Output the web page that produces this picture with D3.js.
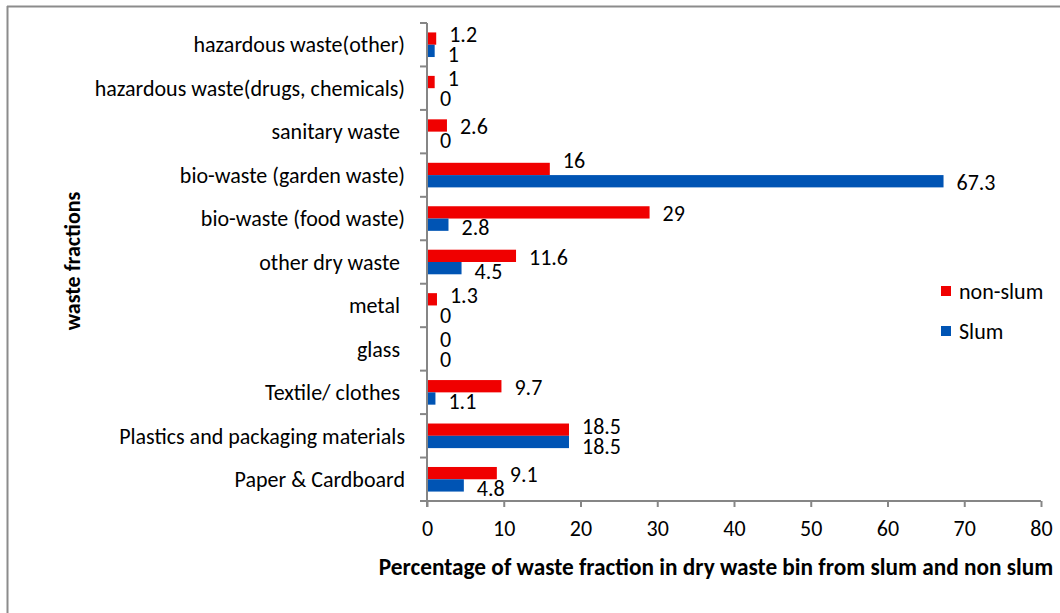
<!DOCTYPE html>
<html>
<head>
<meta charset="utf-8">
<script src="https://cdn.jsdelivr.net/npm/d3@7"></script>
<style>
  html, body { margin: 0; padding: 0; background: #fff; }
  svg { display: block; }
  text { font-family: Carlito, Lato, "Open Sans", sans-serif; fill: #000; }
</style>
</head>
<body>
<svg id="chart" width="1060" height="613"></svg>
<script>
// ---- data ----
const categories = [
  "hazardous waste(other)",
  "hazardous waste(drugs, chemicals)",
  "sanitary waste ",
  "bio-waste (garden waste)",
  "bio-waste (food waste)",
  "other dry waste ",
  "metal ",
  "glass ",
  "Textile/ clothes ",
  "Plastics and packaging materials",
  "Paper & Cardboard"
];
const nonSlum = [1.2, 1, 2.6, 16, 29, 11.6, 1.3, 0, 9.7, 18.5, 9.1];
const slum    = [1, 0, 0, 67.3, 2.8, 4.5, 0, 0, 1.1, 18.5, 4.8];
const seriesNames = ["non-slum", "Slum"];
const xTicks = [0, 10, 20, 30, 40, 50, 60, 70, 80];
const xTitle = "Percentage of waste fraction in dry waste bin from slum and non slum";
const yTitle = "waste fractions";

// ---- layout ----
const colors = ["#F00000", "#0054B4"];
const FS = "22px";
const svg = d3.select("#chart");
const pLeft = 427, pRight = 1041, pTop = 23, pBottom = 501;

// outer frame (top and left edges visible)
svg.append("line").attr("x1", 7).attr("x2", 1060).attr("y1", 6.5).attr("y2", 6.5)
  .attr("stroke", "#8c8c8c").attr("stroke-width", 2);
svg.append("line").attr("x1", 7.5).attr("x2", 7.5).attr("y1", 6).attr("y2", 613)
  .attr("stroke", "#8c8c8c").attr("stroke-width", 2);

const x = d3.scaleLinear().domain([0, 80]).range([pLeft, pRight]);
const y = d3.scaleBand().domain(categories).range([pTop, pBottom])
  .paddingInner(0.434).paddingOuter(0.217);
const inner = d3.scaleBand().domain([0, 1]).range([0, y.bandwidth()]);

const data = categories.map((c, i) => ({ c, vals: [nonSlum[i], slum[i]] }));

// bars
const g = svg.append("g");
data.forEach(d => {
  d.vals.forEach((v, s) => {
    g.append("rect")
      .attr("x", x(0))
      .attr("y", y(d.c) + inner(s))
      .attr("width", x(v) - x(0))
      .attr("height", inner.bandwidth())
      .attr("fill", colors[s]);
  });
});

// x axis
const xAxis = d3.axisBottom(x).tickValues(xTicks).tickSize(6).tickPadding(13);
const xg = svg.append("g").attr("transform", `translate(0,${pBottom})`).call(xAxis);
xg.select(".domain").attr("stroke", "#868686").attr("stroke-width", 2)
  .attr("d", `M${pLeft - 7},0H${pRight}`);
xg.selectAll(".tick line").attr("stroke", "#868686").attr("stroke-width", 2);
xg.selectAll(".tick text").style("font-size", FS)
  .style("font-family", "Carlito, Lato, 'Open Sans', sans-serif").attr("fill", "#000");

// y axis: ticks at category boundaries
const boundaries = d3.range(categories.length + 1).map(i => pTop + i * y.step());
svg.append("line").attr("x1", pLeft).attr("x2", pLeft).attr("y1", pTop).attr("y2", pBottom + 6)
  .attr("stroke", "#868686").attr("stroke-width", 2);
svg.selectAll(".ytick").data(boundaries).enter().append("line")
  .attr("x1", pLeft - 7).attr("x2", pLeft).attr("y1", d => d).attr("y2", d => d)
  .attr("stroke", "#868686").attr("stroke-width", 2);

// category labels
svg.selectAll(".cat").data(categories).enter().append("text")
  .attr("x", 405)
  .attr("y", d => y(d) + y.bandwidth() / 2)
  .attr("dy", "0.35em")
  .attr("text-anchor", "end")
  .style("font-size", FS)
  .style("white-space", "pre")
  .text(d => d);

// value labels: centred on each bar, moved off the neighbouring bar / label when they collide
const minSep = 20;
data.forEach(d => {
  const labs = d.vals.map((v, s) => {
    const t = svg.append("text")
      .attr("x", x(v) + 13)
      .attr("dy", "0.35em")
      .style("font-size", FS)
      .text(v);
    const w = t.node().getComputedTextLength();
    return { t, x0: x(v) + 13, x1: x(v) + 13 + w, cy: y(d.c) + inner(s) + inner.bandwidth() / 2 + 1 };
  });
  const [a, b] = labs;
  // red label sitting over the longer blue bar -> lift it
  if (a.x0 < x(d.vals[1])) a.cy -= 10;
  // blue label under the longer red bar -> drop it slightly
  if (b.x0 < x(d.vals[0])) b.cy += 2;
  const hOverlap = a.x0 < b.x1 + 2 && b.x0 < a.x1 + 2;
  if (hOverlap && b.cy - a.cy < minSep) {
    const mid = (a.cy + b.cy) / 2;
    a.cy = mid - minSep / 2 - 1;
    b.cy = mid + minSep / 2 - 1;
  }
  labs.forEach(l => l.t.attr("y", l.cy));
});

// legend
seriesNames.forEach((n, i) => {
  const ly = 291 + i * 40;
  svg.append("rect").attr("x", 941).attr("y", ly - 5).attr("width", 10).attr("height", 10)
    .attr("fill", colors[i]);
  svg.append("text").attr("x", 959).attr("y", ly).attr("dy", "0.35em")
    .style("font-size", FS).text(n);
});

// axis titles
svg.append("text").attr("x", 716).attr("y", 567).attr("dy", "0.35em")
  .attr("text-anchor", "middle").style("font-size", "23.3px").style("font-weight", "bold")
  .text(xTitle);
svg.append("text").attr("transform", "translate(72,261) rotate(-90)").attr("dy", "0.35em")
  .attr("text-anchor", "middle").style("font-size", "22px").style("font-weight", "bold")
  .text(yTitle);
</script>
</body>
</html>
